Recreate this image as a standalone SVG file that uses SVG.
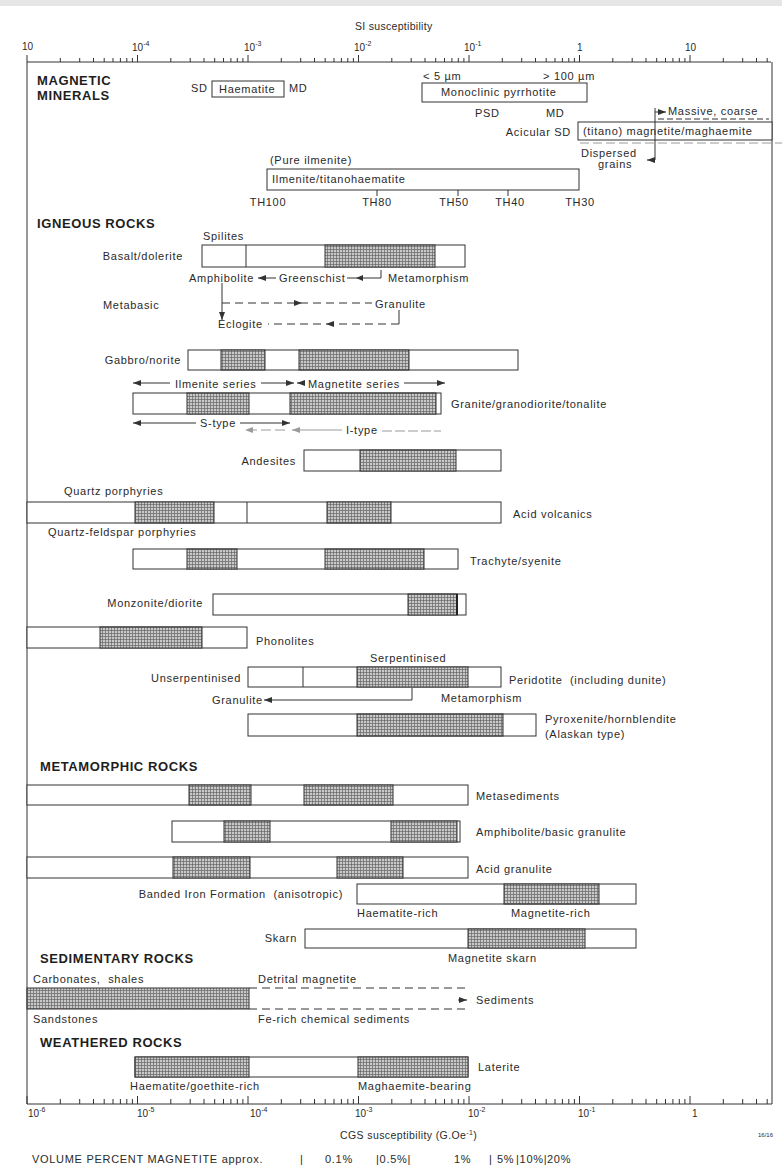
<svg xmlns="http://www.w3.org/2000/svg" width="782" height="1171" viewBox="0 0 782 1171">
<defs>
<style>
.t{font-family:"Liberation Sans",Arial,sans-serif;font-size:11px;letter-spacing:0.7px;fill:#2a2a2a}
.h{font-family:"Liberation Sans",Arial,sans-serif;font-size:13px;font-weight:bold;letter-spacing:0.6px;fill:#1e1e1e}
.ax{font-family:"Liberation Sans",Arial,sans-serif;font-size:10px;fill:#2a2a2a}
.sup{font-size:7px}
.box{fill:#fff;stroke:#333;stroke-width:1}
.hat{fill:url(#hatch);stroke:#333;stroke-width:1}
.ln{stroke:#333;stroke-width:1;fill:none}
.dash{stroke-dasharray:8 5}
.gr{stroke:#9a9a9a}
</style>
<pattern id="hatch" width="3" height="3" patternUnits="userSpaceOnUse">
<rect width="3" height="3" fill="#c9c9c9"/>
<path d="M0 0.5H3M0.5 0V3" stroke="#666" stroke-width="0.7"/>
</pattern>
<marker id="ah" viewBox="0 0 8 6" refX="8" refY="3" markerWidth="8" markerHeight="6" markerUnits="userSpaceOnUse" orient="auto"><path d="M0,0 L8,3 L0,6 z" fill="#333"/></marker>
<marker id="ahg" viewBox="0 0 8 6" refX="8" refY="3" markerWidth="8" markerHeight="6" markerUnits="userSpaceOnUse" orient="auto"><path d="M0,0 L8,3 L0,6 z" fill="#9a9a9a"/></marker>
</defs>
<rect x="0" y="0" width="782" height="1171" fill="#fff"/>
<rect x="0" y="0" width="782" height="6" fill="#e6e6e6"/>

<g id="axes">
<text class="t" x="355" y="30" style="font-size:10.5px;letter-spacing:0.3px">SI susceptibility</text>
<path class="ln" d="M27 62H771M27 62V1104M772 62V1104M27 1104H772"/>
<path class="ln" d="M27 62v-7M137.5 62v-7M248 62v-7M358.5 62v-7M469 62v-7M579.5 62v-7M690 62v-7
M60.3 62v-4M79.7 62v-4M93.5 62v-4M104.2 62v-4M113 62v-4M120.4 62v-4M126.8 62v-4M132.4 62v-4
M170.8 62v-4M190.2 62v-4M204 62v-4M214.7 62v-4M223.5 62v-4M230.9 62v-4M237.3 62v-4M242.9 62v-4
M281.3 62v-4M300.7 62v-4M314.5 62v-4M325.2 62v-4M334 62v-4M341.4 62v-4M347.8 62v-4M353.4 62v-4
M391.8 62v-4M411.2 62v-4M425 62v-4M435.7 62v-4M444.5 62v-4M451.9 62v-4M458.3 62v-4M463.9 62v-4
M502.3 62v-4M521.7 62v-4M535.5 62v-4M546.2 62v-4M555 62v-4M562.4 62v-4M568.8 62v-4M574.4 62v-4
M612.8 62v-4M632.2 62v-4M646 62v-4M656.7 62v-4M665.5 62v-4M672.9 62v-4M679.3 62v-4M684.9 62v-4
M723.3 62v-4M742.7 62v-4M756.5 62v-4M767.2 62v-4"/>
<path class="ln" d="M27 1104v-8M137.5 1104v-8M248 1104v-8M358.5 1104v-8M469 1104v-8M579.5 1104v-8M690 1104v-8
M60.3 1104v-5M79.7 1104v-5M93.5 1104v-5M104.2 1104v-5M113 1104v-5M120.4 1104v-5M126.8 1104v-5M132.4 1104v-5
M170.8 1104v-5M190.2 1104v-5M204 1104v-5M214.7 1104v-5M223.5 1104v-5M230.9 1104v-5M237.3 1104v-5M242.9 1104v-5
M281.3 1104v-5M300.7 1104v-5M314.5 1104v-5M325.2 1104v-5M334 1104v-5M341.4 1104v-5M347.8 1104v-5M353.4 1104v-5
M391.8 1104v-5M411.2 1104v-5M425 1104v-5M435.7 1104v-5M444.5 1104v-5M451.9 1104v-5M458.3 1104v-5M463.9 1104v-5
M502.3 1104v-5M521.7 1104v-5M535.5 1104v-5M546.2 1104v-5M555 1104v-5M562.4 1104v-5M568.8 1104v-5M574.4 1104v-5
M612.8 1104v-5M632.2 1104v-5M646 1104v-5M656.7 1104v-5M665.5 1104v-5M672.9 1104v-5M679.3 1104v-5M684.9 1104v-5
M723.3 1104v-5M742.7 1104v-5M756.5 1104v-5M767.2 1104v-5"/>
<text class="ax" x="22" y="50">10</text>
<text class="ax" x="132" y="51">10<tspan class="sup" dy="-5">-4</tspan></text>
<text class="ax" x="244" y="51">10<tspan class="sup" dy="-5">-3</tspan></text>
<text class="ax" x="354" y="51">10<tspan class="sup" dy="-5">-2</tspan></text>
<text class="ax" x="464" y="51">10<tspan class="sup" dy="-5">-1</tspan></text>
<text class="ax" x="577" y="51">1</text>
<text class="ax" x="685" y="51">10</text>
<text class="ax" x="28" y="1117">10<tspan class="sup" dy="-5">-6</tspan></text>
<text class="ax" x="137" y="1117">10<tspan class="sup" dy="-5">-5</tspan></text>
<text class="ax" x="250" y="1117">10<tspan class="sup" dy="-5">-4</tspan></text>
<text class="ax" x="355" y="1117">10<tspan class="sup" dy="-5">-3</tspan></text>
<text class="ax" x="468" y="1117">10<tspan class="sup" dy="-5">-2</tspan></text>
<text class="ax" x="578" y="1117">10<tspan class="sup" dy="-5">-1</tspan></text>
<text class="ax" x="692" y="1117">1</text>
<text class="t" x="340" y="1139" style="font-size:10.5px;letter-spacing:0.4px">CGS susceptibility (G.Oe<tspan class="sup" dy="-4">-1</tspan><tspan dy="4">)</tspan></text>
<text class="ax" x="758" y="1137" style="font-size:6px">16/16</text>
<text class="t" x="32" y="1163">VOLUME PERCENT MAGNETITE approx.</text>
<text class="t" x="300" y="1163">|</text>
<text class="t" x="325" y="1163">0.1%</text>
<text class="t" x="376" y="1163">|0.5%|</text>
<text class="t" x="454" y="1163">1%</text>
<text class="t" x="489" y="1163">|</text>
<text class="t" x="497" y="1163">5%</text>
<text class="t" x="516" y="1163">|10%|</text>
<text class="t" x="547" y="1163">20%</text>
</g>

<g id="magnetic-minerals">
<text class="h" x="37" y="85">MAGNETIC</text>
<text class="h" x="37" y="100">MINERALS</text>
</g>
<g id="haematite">
<text class="t" x="191" y="92">SD</text>
<rect class="box" x="212" y="81" width="72" height="16"/>
<text class="t" x="219" y="93">Haematite</text>
<text class="t" x="289" y="92">MD</text>
</g>
<g id="pyrrhotite">
<text class="t" x="423" y="80">&lt; 5 µm</text>
<text class="t" x="543" y="80">&gt; 100 µm</text>
<rect class="box" x="422" y="83" width="165" height="19"/>
<text class="t" x="441" y="96">Monoclinic pyrrhotite</text>
<text class="t" x="475" y="117">PSD</text>
<text class="t" x="546" y="117">MD</text>
</g>
<g id="magnetite">
<text class="t" x="571" y="136" text-anchor="end">Acicular SD</text>
<rect class="box" x="578" y="122" width="194" height="18"/>
<text class="t" x="583" y="135">(titano) magnetite/maghaemite</text>
<text class="t" x="668" y="115">Massive, coarse</text>
<text class="t" x="581" y="157">Dispersed</text>
<text class="t" x="598" y="168">grains</text>
</g>
<g id="ilmenite">
<text class="t" x="270" y="164">(Pure ilmenite)</text>
<rect class="box" x="267" y="169" width="312" height="21"/>
<text class="t" x="272" y="183">Ilmenite/titanohaematite</text>
<path class="ln" d="M377 190v6M458 190v6M508 190v6"/>
<text class="t" x="268" y="206" text-anchor="middle">TH100</text>
<text class="t" x="377" y="206" text-anchor="middle">TH80</text>
<text class="t" x="454" y="206" text-anchor="middle">TH50</text>
<text class="t" x="510" y="206" text-anchor="middle">TH40</text>
<text class="t" x="580" y="206" text-anchor="middle">TH30</text>
</g>

<g id="igneous-label"><text class="h" x="37" y="228">IGNEOUS ROCKS</text></g>
<g id="basalt">
<text class="t" x="203" y="240">Spilites</text>
<text class="t" x="183" y="260" text-anchor="end">Basalt/dolerite</text>
<rect class="box" x="202" y="245" width="263" height="22"/>
<rect class="hat" x="325" y="245" width="110" height="22"/>
<path class="ln" d="M246 245v22"/>
<text class="t" x="189" y="282">Amphibolite</text>
<text class="t" x="279" y="282">Greenschist</text>
<text class="t" x="388" y="282">Metamorphism</text>
</g>
<g id="metabasic">
<text class="t" x="103" y="309">Metabasic</text>
<text class="t" x="375" y="308">Granulite</text>
<text class="t" x="218" y="328">Eclogite</text>
</g>
<g id="gabbro">
<text class="t" x="181" y="364" text-anchor="end">Gabbro/norite</text>
<rect class="box" x="188" y="350" width="330" height="20"/>
<rect class="hat" x="221" y="350" width="44" height="20"/>
<rect class="hat" x="299" y="350" width="110" height="20"/>
<text class="t" x="175" y="388">Ilmenite series</text>
<text class="t" x="308" y="388">Magnetite series</text>
</g>
<g id="granite">
<rect class="box" x="133" y="393" width="308" height="21"/>
<rect class="hat" x="187" y="393" width="62" height="21"/>
<rect class="hat" x="290" y="393" width="146" height="21"/>
<text class="t" x="451" y="408">Granite/granodiorite/tonalite</text>
<text class="t" x="200" y="427">S-type</text>
<text class="t" x="346" y="434">I-type</text>
</g>
<g id="andesites">
<text class="t" x="296" y="465" text-anchor="end">Andesites</text>
<rect class="box" x="304" y="450" width="197" height="21"/>
<rect class="hat" x="360" y="450" width="96" height="21"/>
</g>
<g id="acid-volcanics">
<text class="t" x="64" y="495">Quartz porphyries</text>
<rect class="box" x="27" y="502" width="474" height="21"/>
<rect class="hat" x="135" y="502" width="79" height="21"/>
<rect class="hat" x="327" y="502" width="64" height="21"/>
<path class="ln" d="M247 502v21"/>
<text class="t" x="513" y="518">Acid volcanics</text>
<text class="t" x="48" y="536">Quartz-feldspar porphyries</text>
</g>
<g id="trachyte">
<rect class="box" x="133" y="549" width="325" height="20"/>
<rect class="hat" x="187" y="549" width="50" height="20"/>
<rect class="hat" x="325" y="549" width="99" height="20"/>
<text class="t" x="470" y="565">Trachyte/syenite</text>
</g>
<g id="monzonite">
<text class="t" x="203" y="607" text-anchor="end">Monzonite/diorite</text>
<rect class="box" x="213" y="594" width="253" height="21"/>
<rect class="hat" x="408" y="594" width="49" height="21"/>
<path d="M457 594v21" stroke="#222" stroke-width="2"/>
</g>
<g id="phonolites">
<rect class="box" x="27" y="627" width="220" height="21"/>
<rect class="hat" x="100" y="627" width="102" height="21"/>
<text class="t" x="256" y="645">Phonolites</text>
</g>
<g id="peridotite">
<text class="t" x="370" y="662">Serpentinised</text>
<text class="t" x="241" y="682" text-anchor="end">Unserpentinised</text>
<rect class="box" x="248" y="667" width="253" height="20"/>
<rect class="hat" x="357" y="667" width="111" height="20"/>
<path class="ln" d="M303 667v20"/>
<text class="t" x="509" y="684">Peridotite&#160; (including dunite)</text>
<text class="t" x="212" y="704">Granulite</text>
<text class="t" x="441" y="702">Metamorphism</text>
</g>
<g id="pyroxenite">
<rect class="box" x="248" y="714" width="288" height="22"/>
<rect class="hat" x="357" y="714" width="146" height="22"/>
<text class="t" x="545" y="723">Pyroxenite/hornblendite</text>
<text class="t" x="545" y="738">(Alaskan type)</text>
</g>

<g id="metamorphic-label"><text class="h" x="40" y="771">METAMORPHIC ROCKS</text></g>
<g id="metasediments">
<rect class="box" x="27" y="785" width="441" height="20"/>
<rect class="hat" x="189" y="785" width="62" height="20"/>
<rect class="hat" x="304" y="785" width="89" height="20"/>
<text class="t" x="476" y="800">Metasediments</text>
</g>
<g id="amphibolite">
<rect class="box" x="172" y="821" width="288" height="21"/>
<rect class="hat" x="224" y="821" width="46" height="21"/>
<rect class="hat" x="391" y="821" width="66" height="21"/>
<text class="t" x="476" y="836">Amphibolite/basic granulite</text>
</g>
<g id="acid-granulite">
<rect class="box" x="27" y="857" width="441" height="21"/>
<rect class="hat" x="173" y="857" width="77" height="21"/>
<rect class="hat" x="337" y="857" width="66" height="21"/>
<text class="t" x="476" y="873">Acid granulite</text>
</g>
<g id="bif">
<text class="t" x="343" y="898" text-anchor="end">Banded Iron Formation&#160; (anisotropic)</text>
<rect class="box" x="357" y="884" width="279" height="20"/>
<rect class="hat" x="504" y="884" width="95" height="20"/>
<text class="t" x="357" y="917">Haematite-rich</text>
<text class="t" x="511" y="917">Magnetite-rich</text>
</g>
<g id="skarn">
<text class="t" x="297" y="942" text-anchor="end">Skarn</text>
<rect class="box" x="305" y="929" width="331" height="19"/>
<rect class="hat" x="468" y="929" width="117" height="19"/>
<text class="t" x="448" y="962">Magnetite skarn</text>
</g>

<g id="sedimentary-label"><text class="h" x="40" y="963">SEDIMENTARY ROCKS</text></g>
<g id="sediments">
<text class="t" x="33" y="983">Carbonates,&#160; shales</text>
<text class="t" x="258" y="983">Detrital magnetite</text>
<rect class="hat" x="27" y="988" width="222" height="21"/>
<text class="t" x="476" y="1004">Sediments</text>
<text class="t" x="33" y="1023">Sandstones</text>
<text class="t" x="258" y="1023">Fe-rich chemical sediments</text>
</g>

<g id="weathered-label"><text class="h" x="40" y="1047">WEATHERED ROCKS</text></g>
<g id="laterite">
<rect class="box" x="135" y="1057" width="333" height="20"/>
<rect class="hat" x="135" y="1057" width="114" height="20"/>
<rect class="hat" x="358" y="1057" width="110" height="20"/>
<text class="t" x="478" y="1071">Laterite</text>
<text class="t" x="130" y="1090">Haematite/goethite-rich</text>
<text class="t" x="358" y="1090">Maghaemite-bearing</text>
</g>

<g id="connectors">
<!-- magnetite -->
<path class="ln" d="M655 108V160H647" marker-end="url(#ah)"/>
<path class="ln" d="M655 112H666" marker-end="url(#ah)"/>
<path class="ln" d="M658 119H769" stroke-dasharray="6 3" stroke="#555"/>
<path class="ln gr" d="M580 143H782" stroke-dasharray="9 4"/>
<!-- basalt -->
<path class="ln" d="M276 278H258" marker-end="url(#ah)"/>
<path class="ln" d="M381 270V278H347"/>
<path d="M363 275L356 278L363 281z" fill="#333"/>
<!-- metabasic -->
<path class="ln" d="M222 283V320" marker-end="url(#ah)"/>
<path class="ln dash" d="M222 303H372"/>
<path d="M294 300L302 303L294 306z" fill="#333"/>
<path class="ln" d="M399 310V324"/>
<path class="ln dash" d="M399 324H268"/>
<path d="M334 321L326 324L334 327z" fill="#333"/>
<!-- series -->
<path class="ln" d="M170 383H133" marker-end="url(#ah)"/>
<path class="ln" d="M261 383H294" marker-end="url(#ah)"/>
<path class="ln" d="M305 383H297" marker-end="url(#ah)"/>
<path class="ln" d="M404 383H445" marker-end="url(#ah)"/>
<!-- S / I type -->
<path class="ln" d="M196 423H133" marker-end="url(#ah)"/>
<path class="ln" d="M240 423H290" marker-end="url(#ah)"/>
<path class="ln gr" d="M285 430H245" stroke-dasharray="10 4" marker-end="url(#ahg)"/>
<path class="ln gr" d="M342 430H292" marker-end="url(#ahg)"/>
<path class="ln gr" d="M382 431H441" stroke-dasharray="10 3"/>
<!-- peridotite -->
<path class="ln" d="M412 688V700H264" marker-end="url(#ah)"/>
<!-- sediments -->
<path class="ln dash" d="M249 988H468M249 1009H468"/>
<path class="ln" d="M458 1000H467" marker-end="url(#ah)"/>
</g>
</svg>
